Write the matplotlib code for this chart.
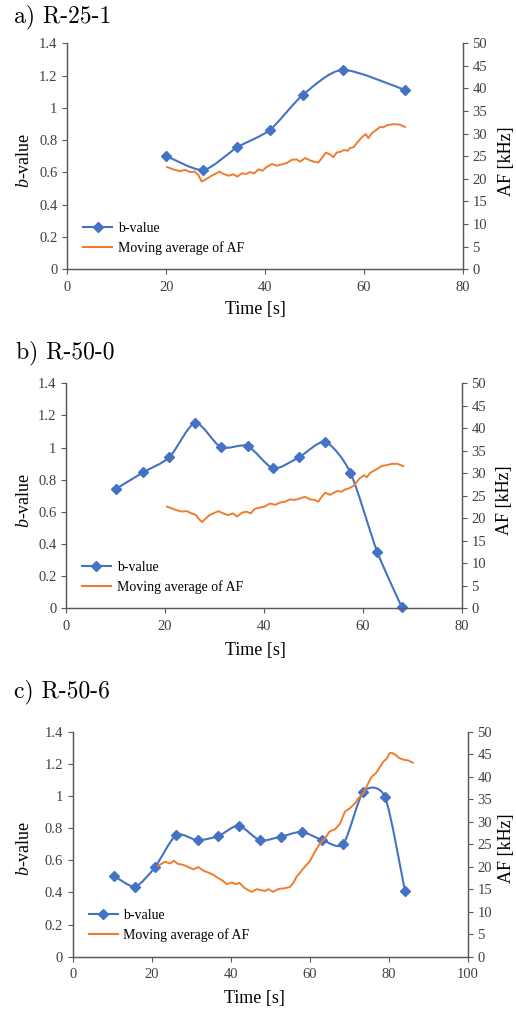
import matplotlib.pyplot as plt
import numpy as np
from matplotlib.path import Path
from matplotlib.patches import PathPatch
from matplotlib.lines import Line2D

plt.rcParams['font.family'] = ['Liberation Serif', 'DejaVu Serif']
plt.rcParams['mathtext.fontset'] = 'custom'
plt.rcParams['mathtext.it'] = 'Liberation Serif:italic'
plt.rcParams['mathtext.rm'] = 'Liberation Serif'

# ---- data ----
titles = ['a) R-25-1', 'b) R-50-0', 'c) R-50-6']
x_max = [80, 80, 100]

# b-value (markers)
b_t_a = [20.0, 27.5, 34.4, 41.0, 47.6, 55.7, 68.3]
b_v_a = [0.702, 0.615, 0.756, 0.863, 1.078, 1.235, 1.111]

b_t_b = [10.2, 15.6, 20.9, 26.1, 31.3, 36.7, 41.9, 47.1, 52.4, 57.5, 62.9, 67.9]
b_v_b = [0.745, 0.846, 0.940, 1.155, 1.002, 1.010, 0.871, 0.940, 1.035, 0.844, 0.353, 0.006]

b_t_c = [10.5, 15.8, 20.8, 26.2, 31.6, 36.9, 42.0, 47.4, 52.7, 58.0, 63.2, 68.5, 73.6, 79.1, 84.1]
b_v_c = [0.502, 0.436, 0.556, 0.757, 0.724, 0.751, 0.815, 0.724, 0.747, 0.776, 0.726, 0.701, 1.027, 0.991, 0.411]

# moving average of AF [kHz]
af_t_a = [20.2, 21.4, 22.8, 23.8, 24.8, 25.8, 26.5, 27.2, 27.9, 28.9, 29.9, 30.8, 31.6, 32.6,
          33.6, 34.4, 35.3, 36.2, 37.0, 37.8, 38.7, 39.5, 40.3, 41.4, 42.4, 43.4, 44.4, 45.4,
          46.4, 47.1, 48.1, 49.1, 49.9, 50.8, 51.5, 52.3, 53.2, 53.8, 54.5, 55.3, 56.0, 56.7,
          57.2, 57.9, 58.4, 59.1, 59.9, 60.4, 60.9, 61.6, 62.5, 63.3, 63.9, 64.8, 66.0, 67.2, 68.3]
af_v_a = [22.6, 22.1, 21.7, 22.0, 21.5, 21.6, 20.9, 19.4, 19.8, 20.5, 21.1, 21.6, 21.1, 20.7,
          21.0, 20.5, 21.2, 21.1, 21.5, 21.2, 22.1, 21.8, 22.6, 23.3, 22.9, 23.2, 23.5, 24.2,
          24.3, 23.8, 24.6, 24.1, 23.8, 23.6, 24.6, 25.8, 25.4, 24.8, 25.8, 26.0, 26.4, 26.2,
          26.8, 27.0, 27.7, 28.6, 29.5, 29.9, 29.0, 30.1, 30.8, 31.5, 31.4, 31.9, 32.1, 32.0, 31.5]

af_t_b = [20.4, 21.4, 22.4, 23.4, 24.4, 25.4, 26.3, 26.9, 27.5, 28.1, 29.0, 29.8, 30.8, 31.8,
          32.8, 33.7, 34.6, 35.5, 36.5, 37.3, 38.2, 39.2, 40.2, 41.2, 42.3, 43.3, 44.3, 45.3,
          46.3, 47.3, 48.3, 49.3, 50.3, 51.0, 51.7, 52.4, 53.4, 54.0, 54.9, 55.7, 56.4, 57.3,
          58.1, 58.8, 59.4, 60.3, 60.8, 61.5, 62.3, 63.1, 63.8, 64.7, 65.9, 67.0, 68.2]
af_v_b = [22.6, 22.2, 21.8, 21.5, 21.6, 21.1, 20.7, 19.8, 19.2, 19.8, 20.7, 21.1, 21.6, 21.1,
          20.7, 21.1, 20.4, 21.2, 21.5, 21.1, 22.1, 22.4, 22.6, 23.3, 23.0, 23.5, 23.7, 24.2,
          24.1, 24.4, 24.8, 24.2, 24.1, 23.7, 24.8, 25.7, 25.2, 25.6, 26.1, 25.9, 26.4, 26.7,
          27.2, 28.1, 28.9, 29.6, 29.1, 30.1, 30.6, 31.1, 31.6, 31.8, 32.1, 32.1, 31.6]

af_t_c = [21.6, 23.4, 24.6, 25.6, 26.7, 28.0, 29.3, 30.5, 31.8, 33.1, 34.3, 35.6, 36.9, 38.0,
          39.0, 40.3, 41.3, 42.2, 43.2, 44.2, 45.3, 46.6, 47.6, 48.7, 49.5, 50.8, 51.7, 52.5,
          53.7, 55.0, 55.8, 56.7, 57.5, 58.4, 60.1, 61.3, 62.6, 63.9, 65.0, 66.4, 67.7, 68.9,
          70.2, 71.5, 72.3, 73.6, 74.8, 75.7, 76.8, 77.8, 78.6, 79.6, 80.2, 80.8, 81.8, 82.7,
          84.1, 85.0, 86.1]
af_v_c = [20.2, 21.1, 20.7, 21.3, 20.6, 20.4, 19.9, 19.4, 19.9, 19.1, 18.7, 18.2, 17.4, 16.9,
          16.1, 16.5, 16.1, 16.4, 15.5, 14.9, 14.4, 15.0, 14.8, 14.6, 15.0, 14.4, 14.9, 15.1,
          15.2, 15.5, 16.3, 17.8, 18.6, 19.6, 21.3, 23.3, 25.2, 26.3, 27.8, 28.3, 29.6, 32.2,
          33.0, 34.1, 35.2, 36.3, 38.5, 40.0, 40.8, 42.2, 43.3, 44.1, 45.2, 45.3, 44.8, 44.1,
          43.7, 43.6, 43.1]

blue = '#4472C4'
orange = '#ED7D31'
spine_col = '#595959'
tick_col = '#404040'


def smooth_path(x, y, k=1/8):
    # Excel-style smoothed line through the markers (cubic Bezier segments)
    px = np.concatenate([[x[0]], x, [x[-1]]])
    py = np.concatenate([[y[0]], y, [y[-1]]])
    verts = [(x[0], y[0])]
    codes = [Path.MOVETO]
    for i in range(1, len(px) - 2):
        c1 = (px[i] + (px[i+1] - px[i-1]) * k, py[i] + (py[i+1] - py[i-1]) * k)
        c2 = (px[i+1] - (px[i+2] - px[i]) * k, py[i+1] - (py[i+2] - py[i]) * k)
        verts += [c1, c2, (px[i+1], py[i+1])]
        codes += [Path.CURVE4] * 3
    return Path(verts, codes)


def draw_panel(rect, title, title_xy, xmax, bt, bv, aft, afv, lab_l, lab_r, xlab):
    ax = fig.add_axes(rect)
    ax2 = ax.twinx()

    ax.add_patch(PathPatch(smooth_path(np.array(bt), np.array(bv)), fill=False,
                           edgecolor=blue, lw=1.5, zorder=2))
    ax.plot(bt, bv, linestyle='none', marker='D', ms=5, color=blue, clip_on=False, zorder=3)
    ax2.plot(aft, afv, color=orange, lw=1.4)

    ax.set_xlim(0, xmax)
    ax.set_ylim(0, 1.4)
    ax2.set_ylim(0, 50)
    ax.set_xticks(np.arange(0, xmax + 1, 20))
    ax.set_yticks(np.arange(0, 1.41, 0.2))
    ax.set_yticklabels([f'{v:g}' for v in np.round(np.arange(0, 1.41, 0.2), 1)])
    ax2.set_yticks(np.arange(0, 51, 5))

    for a in (ax, ax2):
        a.spines['top'].set_visible(False)
        for s in a.spines.values():
            s.set_color(spine_col)
            s.set_linewidth(0.9)
        a.tick_params(direction='out', length=3.5, width=0.8, color=spine_col,
                      labelsize=10.5, labelcolor=tick_col, pad=3.5)
    ax.tick_params(axis='x', pad=5)

    ax.set_xlabel('Time [s]', fontsize=13)
    ax.xaxis.set_label_coords(xlab[0], xlab[1])
    ax.xaxis.label.set_va('center')
    ax.set_ylabel(r'$b$-value', fontsize=13)
    ax.yaxis.set_label_coords(lab_l, 0.48)
    ax.yaxis.label.set_va('center')
    ax2.set_ylabel('AF [kHz]', fontsize=13)
    ax2.yaxis.set_label_coords(lab_r, 0.48)
    ax2.yaxis.label.set_va('center')

    h1 = Line2D([], [], color=blue, marker='D', ms=5, lw=1.5)
    h2 = Line2D([], [], color=orange, lw=1.5)
    ax2.legend([h1, h2], ['b-value', 'Moving average of AF'], loc='lower left',
               bbox_to_anchor=(0.04, 0.065), frameon=False, fontsize=10,
               handlelength=2.1, handletextpad=0.4, labelspacing=0.45,
               borderpad=0, borderaxespad=0)

    fig.text(title_xy[0] / 516, 1 - title_xy[1] / 1010, title, fontsize=17,
             family='cmr10', ha='left', va='center')


fig = plt.figure(figsize=(5.16, 10.10), dpi=100)

draw_panel([0.1304, 0.7334, 0.7663, 0.2238], titles[0], (14, 17), x_max[0],
           b_t_a, b_v_a, af_t_a, af_v_a, -0.107, 1.112, (0.475, -0.18))
draw_panel([0.1279, 0.3977, 0.7669, 0.2228], titles[1], (16, 353), x_max[1],
           b_t_b, b_v_b, af_t_b, af_v_b, -0.104, 1.109, (0.478, -0.188))
draw_panel([0.1409, 0.0528, 0.7655, 0.2228], titles[2], (14, 692), x_max[2],
           b_t_c, b_v_c, af_t_c, af_v_c, -0.121, 1.099, (0.46, -0.185))

fig.savefig('out.png', dpi=100)
